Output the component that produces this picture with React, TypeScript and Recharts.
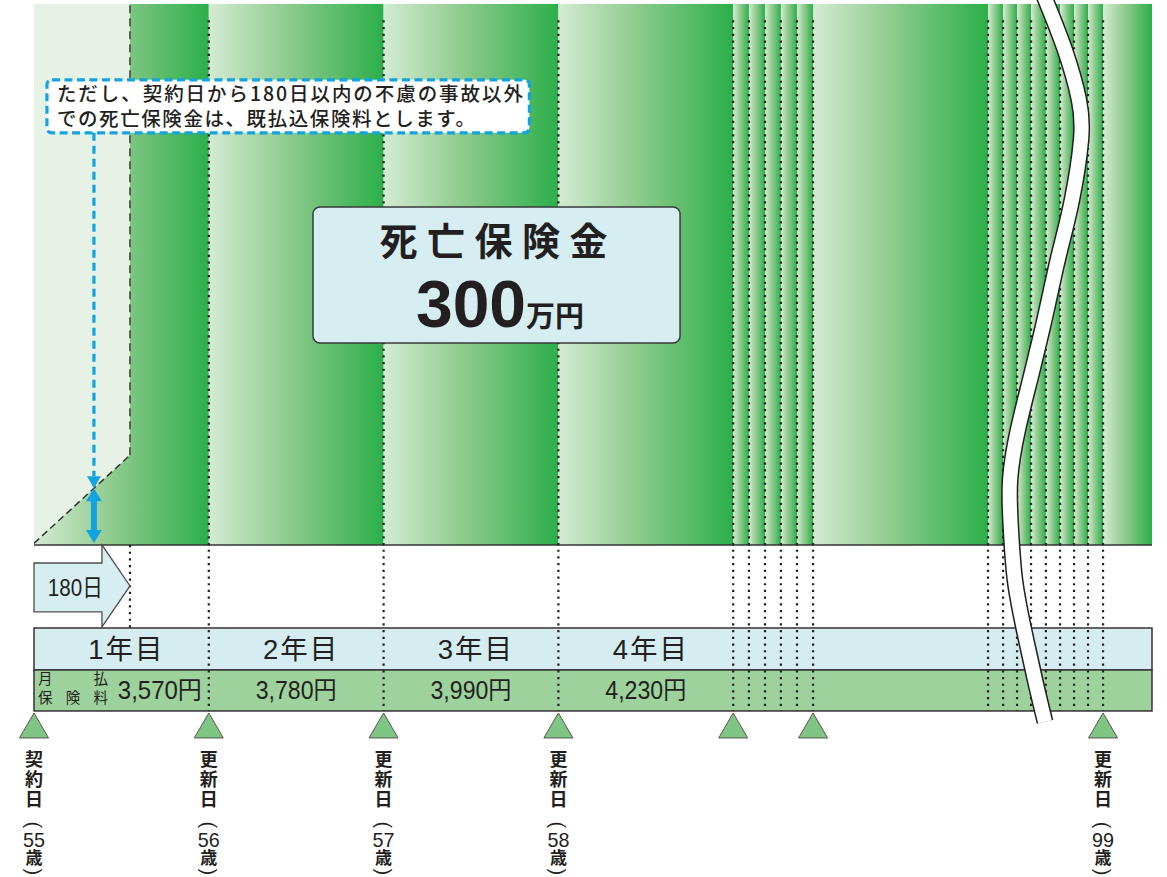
import React from 'react'
import {
  ComposedChart,
  XAxis,
  YAxis,
  Area,
  Line,
  ReferenceArea,
  ReferenceLine,
  ReferenceDot,
} from 'recharts'

// ─── Data ─────────────────────────────────────────────────────────────────────

// policy years shown in the schedule band
const yearLabels = ['1年目', '2年目', '3年目', '4年目']
// monthly premium (円) for each of those years
const monthlyPremiums = [3570, 3780, 3990, 4230]

// edges of the coloured coverage columns, in (schematic) policy years
const segmentEdges = [
  0, 1, 2, 3, 4, 4.09, 4.182, 4.273, 4.365, 4.457, 5.458, 5.544, 5.624, 5.704,
  5.789, 5.87, 5.95, 6.03, 6.116, 6.396,
]

// contract / renewal markers along the bottom
const markerYears = [0, 1, 2, 3, 4, 4.457, 6.116]
const markerNames = ['契約日', '更新日', '更新日', '更新日', '', '', '更新日']
const markerAges: (number | null)[] = [55, 56, 57, 58, null, null, 99]

const deathBenefit = 300 // 万円
const waitingDays = 180
const waitingEnd = 0.549 // where the 180-day mark sits on the schematic axis

// during the first 180 days only the premiums paid are refunded
const paleData = [
  { x: 0, diag: 0.3, pale: [0.3, 100] },
  { x: waitingEnd, diag: 16.6, pale: [16.6, 100] },
]
const refundX = 0.343
const refundLevel = 10.48

const calloutLines = [
  'ただし、契約日から180日以内の不慮の事故以外',
  'での死亡保険金は、既払込保険料とします。',
]

// the "omitted years" wavy break
const breakCurve = [
  { x: 5.778, y: 101.5 },
  { x: 5.898, y: 91.5 },
  { x: 5.978, y: 82.3 },
  { x: 5.99, y: 74.9 },
  { x: 5.938, y: 63.8 },
  { x: 5.87, y: 54.5 },
  { x: 5.818, y: 47.1 },
  { x: 5.767, y: 39.7 },
  { x: 5.698, y: 30.5 },
  { x: 5.629, y: 21.3 },
  { x: 5.584, y: 12.0 },
  { x: 5.589, y: 2.8 },
  { x: 5.612, y: -6.5 },
  { x: 5.664, y: -15.7 },
  { x: 5.727, y: -25.0 },
  { x: 5.784, y: -32.7 },
]

// ─── Layout (rows of the drawing, in y-axis units) ────────────────────────────

const X_END = 6.396
const Y_MAX = 100.76
const Y_MIN = -33.1
const DOT_TOP = 97
const ARROW_BOTTOM = -15.16
const BAND1_TOP = -15.35
const BAND2_TOP = -23.11
const BAND_BOTTOM = -30.69

const INK = '#231f20'
const BLUE = '#12a4e0'
const CJK = '"Noto Sans CJK JP", sans-serif'
const LATIN = '"Liberation Sans", "Noto Sans CJK JP", sans-serif'

// ─── Shapes ───────────────────────────────────────────────────────────────────

function ArrowShape(p: any) {
  const { x, y, width: w, height: h } = p
  const hx = x + w * 0.708
  const pts = [
    [x, y + h * 0.22],
    [hx, y + h * 0.22],
    [hx, y],
    [x + w, y + h * 0.5],
    [hx, y + h],
    [hx, y + h * 0.815],
    [x, y + h * 0.815],
  ]
    .map((q) => q.join(','))
    .join(' ')
  return (
    <g>
      <polygon points={pts} fill="#d6eef2" stroke="#4d4d4d" strokeWidth={1.3} />
      <text
        x={x + w * 0.43}
        y={y + h * 0.5 + 10}
        textAnchor="middle"
        fontFamily={LATIN}
        fontSize={24}
        fill={INK}
        textLength={55}
        lengthAdjust="spacingAndGlyphs"
      >
        {waitingDays}日
      </text>
    </g>
  )
}

function CalloutShape(p: any) {
  const { x, y, width, height } = p
  return (
    <g>
      <rect
        x={x}
        y={y}
        width={width}
        height={height}
        rx={5}
        fill="#fff"
        stroke={BLUE}
        strokeWidth={3.2}
        strokeDasharray="8 4.5"
      />
      <text x={x + 10} y={y + 21} fontFamily={CJK} fontSize={19.5} fontWeight={500} fill={INK}
        textLength={466} lengthAdjust="spacing">
        {calloutLines[0]}
      </text>
      <text x={x + 10} y={y + 46} fontFamily={CJK} fontSize={19.5} fontWeight={500} fill={INK}
        textLength={418} lengthAdjust="spacing">
        {calloutLines[1]}
      </text>
    </g>
  )
}

function MainBoxShape(p: any) {
  const { x, y, width, height } = p
  const cx = x + width / 2
  return (
    <g>
      <rect x={x} y={y} width={width} height={height} rx={7} fill="#d6eef2" stroke="#3a3a3a" strokeWidth={1.5} />
      <text x={cx - 3} y={y + 48} textAnchor="middle" fontFamily={CJK} fontSize={38} fontWeight={700}
        fill={INK} textLength={228} lengthAdjust="spacing">
        死亡保険金
      </text>
      <text x={cx + 3.5} y={y + 120} textAnchor="middle" fontFamily={LATIN} fontWeight={700} fill={INK}>
        <tspan fontSize={66}>{deathBenefit}</tspan>
        <tspan fontSize={29} fontFamily={CJK}>万円</tspan>
      </text>
    </g>
  )
}

function PointerShape(p: any) {
  const { x1, y1, y2 } = p
  const top = Math.min(y1, y2)
  const bottom = Math.max(y1, y2)
  return (
    <g>
      <line x1={x1} y1={top} x2={x1} y2={bottom - 12} stroke={BLUE} strokeWidth={3.2} strokeDasharray="8 5" />
      <polygon points={`${x1 - 7},${bottom - 12} ${x1 + 7},${bottom - 12} ${x1},${bottom}`} fill={BLUE} />
    </g>
  )
}

function DoubleArrowShape(p: any) {
  const { x1, y1, y2 } = p
  const top = Math.min(y1, y2)
  const bottom = Math.max(y1, y2) - 2
  return (
    <g>
      <rect x={x1 - 3} y={top + 11} width={6} height={bottom - top - 22} fill={BLUE} />
      <polygon points={`${x1},${top} ${x1 + 8},${top + 13} ${x1 - 8},${top + 13}`} fill={BLUE} />
      <polygon points={`${x1},${bottom} ${x1 + 8},${bottom - 13} ${x1 - 8},${bottom - 13}`} fill={BLUE} />
    </g>
  )
}

function PremiumBandShape(p: any) {
  const { x, y, width, height } = p
  return (
    <g>
      <rect x={x} y={y} width={width} height={height} fill="#9ed29c" stroke="#333" strokeWidth={1.5} />
      <text x={x + 4} y={y + 14} fontFamily={CJK} fontSize={14.5} fill={INK} textLength={70} lengthAdjust="spacing">
        月払
      </text>
      <text x={x + 4} y={y + 33} fontFamily={CJK} fontSize={14.5} fill={INK} textLength={70} lengthAdjust="spacing">
        保険料
      </text>
    </g>
  )
}

function MarkerShape({ cx, cy, name, age }: any) {
  const chars = name ? name.split('') : []
  const openY = cy + 114
  const closeY = cy + 161
  return (
    <g>
      <polygon
        points={`${cx},${cy + 2} ${cx + 14.5},${cy + 27} ${cx - 14.5},${cy + 27}`}
        fill="#80c683"
        stroke="#555"
        strokeWidth={1}
      />
      {chars.map((c: string, i: number) => (
        <text key={i} x={cx} y={cy + 55 + i * 20} textAnchor="middle" fontFamily={CJK} fontSize={18}
          fontWeight={700} fill={INK}>
          {c}
        </text>
      ))}
      {age != null && (
        <g fill={INK} textAnchor="middle">
          <text x={cx} y={openY} dominantBaseline="central" fontFamily={LATIN} fontSize={20}
            transform={`rotate(90 ${cx} ${openY})`}>
            (
          </text>
          <text x={cx} y={cy + 136} fontSize={21} fontFamily={LATIN} textLength={22}
            lengthAdjust="spacingAndGlyphs">
            {age}
          </text>
          <text x={cx} y={cy + 153} fontSize={17} fontFamily={CJK} fontWeight={700}>歳</text>
          <text x={cx} y={closeY} dominantBaseline="central" fontFamily={LATIN} fontSize={20}
            transform={`rotate(90 ${cx} ${closeY})`}>
            )
          </text>
        </g>
      )}
    </g>
  )
}

// ─── Component ────────────────────────────────────────────────────────────────

export default function App() {
  const dottedEdges = segmentEdges.slice(1, -1)

  return (
    <div style={{ position: 'absolute', left: 0, top: 0, width: 1167, height: 877, background: '#fff' }}>
      <svg width={0} height={0} style={{ position: 'absolute' }}>
        <defs>
          <linearGradient id="segGrad" x1="0" y1="0" x2="1" y2="0">
            <stop offset="0%" stopColor="#d4ebd3" />
            <stop offset="45%" stopColor="#8ecb8d" />
            <stop offset="100%" stopColor="#2caf4a" />
          </linearGradient>
        </defs>
      </svg>

      <ComposedChart
        width={1167}
        height={877}
        data={paleData}
        margin={{ top: 0, right: 15, bottom: 153, left: 34 }}
      >
        <XAxis type="number" dataKey="x" domain={[0, X_END]} hide allowDataOverflow />
        <YAxis type="number" domain={[Y_MIN, Y_MAX]} hide allowDataOverflow />

        {/* coverage columns */}
        {segmentEdges.slice(0, -1).map((e, i) => (
          <ReferenceArea
            key={`seg${i}`}
            x1={e}
            x2={segmentEdges[i + 1]}
            y1={0}
            y2={100}
            fill="url(#segGrad)"
            fillOpacity={1}
            stroke="none"
            zIndex={1}
          />
        ))}

        {/* first 180 days: reduced cover */}
        <Area
          type="linear"
          dataKey="pale"
          fill="#e6f2e5"
          fillOpacity={1}
          stroke="none"
          dot={false}
          activeDot={false}
          isAnimationActive={false}
          zIndex={2}
        />

        <ReferenceLine
          segment={[{ x: 0, y: 0 }, { x: X_END, y: 0 }]}
          stroke="#333"
          strokeWidth={1.5}
          zIndex={3}
        />
        <ReferenceArea
          x1={0}
          x2={X_END}
          y1={BAND2_TOP}
          y2={BAND1_TOP}
          fill="#d5edf1"
          fillOpacity={1}
          stroke="#333"
          strokeWidth={1.5}
          zIndex={3}
        />
        <ReferenceArea
          x1={0}
          x2={X_END}
          y1={BAND_BOTTOM}
          y2={BAND2_TOP}
          shape={PremiumBandShape}
          zIndex={3}
        />

        <Line
          type="linear"
          dataKey="diag"
          stroke="#333"
          strokeWidth={1.5}
          strokeDasharray="7 4"
          dot={false}
          activeDot={false}
          isAnimationActive={false}
          zIndex={4}
        />
        <ReferenceLine
          segment={[{ x: waitingEnd, y: 16.6 }, { x: waitingEnd, y: 100 }]}
          stroke="#444"
          strokeWidth={1.6}
          strokeDasharray="8 5"
          zIndex={4}
        />
        <ReferenceLine
          segment={[{ x: waitingEnd, y: 0 }, { x: waitingEnd, y: BAND1_TOP }]}
          stroke={INK}
          strokeWidth={2.2}
          strokeDasharray="2.2 4.5"
          zIndex={5}
        />

        {/* year boundaries */}
        {dottedEdges.map((e) => (
          <ReferenceLine
            key={`dot${e}`}
            segment={[{ x: e, y: DOT_TOP }, { x: e, y: BAND_BOTTOM }]}
            stroke={INK}
            strokeWidth={2.2}
            strokeDasharray="2.2 4.5"
            zIndex={5}
          />
        ))}

        {/* 180日 arrow */}
        <ReferenceArea x1={0} x2={waitingEnd} y1={ARROW_BOTTOM} y2={0} shape={ArrowShape} zIndex={6} />

        {/* band texts */}
        {yearLabels.map((t, i) => (
          <ReferenceDot
            key={`yl${i}`}
            x={i + 0.5}
            y={(BAND1_TOP + BAND2_TOP) / 2}
            r={0}
            zIndex={6}
            shape={(p: any) => (
              <text x={p.cx + 5} y={p.cy + 10} textAnchor="middle" fontFamily={LATIN} fontSize={27.5}
                letterSpacing={2} fill={INK}>
                {t}
              </text>
            )}
          />
        ))}
        {monthlyPremiums.map((v, i) => (
          <ReferenceDot
            key={`pm${i}`}
            x={i + 0.5 + (i === 0 ? 0.22 : 0)}
            y={(BAND2_TOP + BAND_BOTTOM) / 2}
            r={0}
            zIndex={6}
            shape={(p: any) => (
              <text x={p.cx} y={p.cy + 9} textAnchor="middle" fontFamily={LATIN} fontSize={25}
                textLength={i === 0 ? 84 : 81} lengthAdjust="spacingAndGlyphs" fill={INK}>
                {v.toLocaleString('en-US')}円
              </text>
            )}
          />
        ))}

        {/* markers */}
        {markerYears.map((m, i) => (
          <ReferenceDot
            key={`mk${i}`}
            x={m}
            y={BAND_BOTTOM}
            r={0}
            zIndex={6}
            shape={(p: any) => <MarkerShape cx={p.cx} cy={p.cy} name={markerNames[i]} age={markerAges[i]} />}
          />
        ))}

        {/* callouts */}
        <ReferenceArea x1={0.074} x2={2.834} y1={76.2} y2={86.0} shape={CalloutShape} zIndex={7} />
        <ReferenceLine
          segment={[{ x: refundX, y: 76.2 }, { x: refundX, y: refundLevel }]}
          shape={PointerShape}
          zIndex={7}
        />
        <ReferenceLine
          segment={[{ x: refundX, y: refundLevel }, { x: refundX, y: 0 }]}
          shape={DoubleArrowShape}
          zIndex={7}
        />
        <ReferenceArea x1={1.596} x2={3.696} y1={37.34} y2={62.49} shape={MainBoxShape} zIndex={7} />

        {/* wavy break */}
        <Line
          data={breakCurve}
          dataKey="y"
          type="natural"
          stroke={INK}
          strokeWidth={17}
          dot={false}
          activeDot={false}
          isAnimationActive={false}
          zIndex={8}
        />
        <Line
          data={breakCurve}
          dataKey="y"
          type="natural"
          stroke="#fff"
          strokeWidth={14}
          dot={false}
          activeDot={false}
          isAnimationActive={false}
          zIndex={9}
        />
      </ComposedChart>
    </div>
  )
}
